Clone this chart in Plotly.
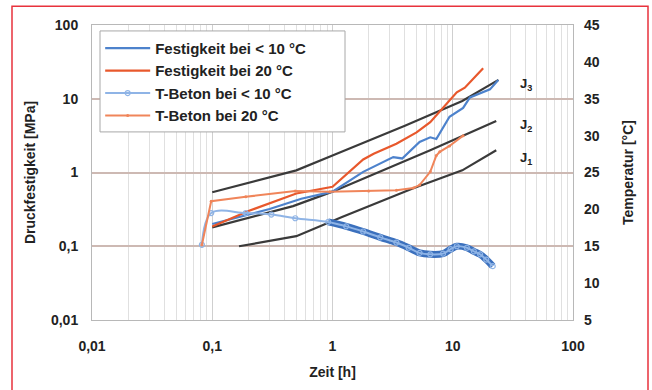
import plotly.graph_objects as go
import numpy as np

# ---- data ----
t_fest_cold = [0.1, 0.3, 0.55, 1.0, 1.8, 3.2, 3.8, 5.3, 6.5, 7.3, 9.4, 12.2, 13.9, 20.4, 23.9]
fest_cold = [0.2, 0.32, 0.44, 0.55, 1.02, 1.62, 1.55, 2.6, 3.0, 2.85, 5.7, 7.5, 10.4, 13.4, 18.0]

t_fest_20 = [0.1, 0.2, 0.5, 1.0, 1.8, 2.2, 3.4, 5.0, 6.5, 7.8, 10.8, 12.6, 17.9]
fest_20 = [0.185, 0.3, 0.52, 0.64, 1.5, 1.8, 2.45, 3.5, 4.8, 6.7, 12.2, 14.1, 26.0]

t_temp_cold = [0.082, 0.098, 0.19, 0.31, 0.49, 0.92, 1.3, 1.8, 2.5, 3.4, 4.3, 5.3, 6.5, 8.3, 9.6, 10.8, 13.1, 15.0, 16.9, 19.0, 21.5]
temp_cold = [15.2, 19.5, 19.5, 19.3, 18.8, 18.3, 17.7, 17.0, 16.2, 15.5, 14.8, 14.1, 13.9, 14.0, 14.6, 15.0, 14.8, 14.3, 13.9, 13.2, 12.3]

t_temp_20 = [0.082, 0.098, 0.19, 0.49, 0.95, 2.0, 3.4, 4.7, 5.3, 6.5, 7.3, 7.8, 9.4, 12.2]
temp_20 = [15.2, 21.1, 21.7, 22.5, 22.4, 22.5, 22.6, 22.9, 23.3, 25.1, 27.3, 27.8, 28.6, 30.0]

t_J1 = [0.167, 0.5, 1.2, 4.7, 12.0, 23.0]
J1 = [0.1, 0.137, 0.25, 0.61, 1.07, 2.0]
t_J2 = [0.1, 0.47, 1.0, 6.5, 23.0]
J2 = [0.18, 0.35, 0.55, 2.0, 5.0]
t_J3 = [0.1, 0.5, 1.0, 4.0, 12.0, 24.0]
J3 = [0.54, 1.07, 1.7, 4.3, 9.3, 18.0]

x_ticks = [0.01, 0.1, 1, 10, 100]
x_ticktext = ["0,01", "0,1", "1", "10", "100"]
y_ticks = [0.01, 0.1, 1, 10, 100]
y_ticktext = ["0,01", "0,1", "1", "10", "100"]
temp_ticks = [5, 10, 15, 20, 25, 30, 35, 40, 45]

series_names = ["Festigkeit bei < 10 °C", "Festigkeit bei 20 °C",
                "T-Beton bei < 10 °C", "T-Beton bei 20 °C"]

BLUE = "#4d82cc"
ORANGE = "#e8582c"
ORANGE_L = "#f0855a"
DARK = "#3a3a3a"
FONT = "Liberation Sans"

fig = go.Figure()

# reference lines J1..J3
for tx, ty in [(t_J1, J1), (t_J2, J2), (t_J3, J3)]:
    fig.add_trace(go.Scatter(x=tx, y=ty, mode="lines", showlegend=False,
                             line=dict(color=DARK, width=2.2), hoverinfo="skip"))

# temperature band underlay (dense logged markers look)
i0 = next(i for i, v in enumerate(t_temp_cold) if v >= 0.9)
fig.add_trace(go.Scatter(x=t_temp_cold[i0:], y=temp_cold[i0:], yaxis="y2", mode="lines",
                         showlegend=False, line=dict(color="#3b70bd", width=7, shape="spline"),
                         hoverinfo="skip"))

fig.add_trace(go.Scatter(x=t_fest_cold, y=fest_cold, mode="lines", name=series_names[0],
                         legendgroup="a", line=dict(color=BLUE, width=2.2)))
fig.add_trace(go.Scatter(x=t_fest_20, y=fest_20, mode="lines", name=series_names[1],
                         legendgroup="b", line=dict(color=ORANGE, width=2.2)))
fig.add_trace(go.Scatter(x=t_temp_cold, y=temp_cold, yaxis="y2", mode="lines+markers",
                         name=series_names[2], legendgroup="c",
                         line=dict(color="#8fb4e6", width=2, shape="spline"),
                         marker=dict(symbol="circle-open", size=5, color="#8fb4e6",
                                     line=dict(width=1.2))))
fig.add_trace(go.Scatter(x=t_temp_20, y=temp_20, yaxis="y2", mode="lines+markers",
                         name=series_names[3], legendgroup="d",
                         line=dict(color=ORANGE_L, width=2),
                         marker=dict(symbol="circle", size=3, color=ORANGE_L)))

# J labels
for lbl, yy in [("J<sub>3</sub>", 15.7), ("J<sub>2</sub>", 4.3), ("J<sub>1</sub>", 1.57)]:
    fig.add_annotation(x=np.log10(34.7), y=np.log10(yy), text="<b>" + lbl + "</b>",
                       showarrow=False, xanchor="left", yanchor="middle",
                       font=dict(family=FONT, size=13, color="#222"))

minor_x = [k * 10.0 ** e for e in range(-2, 2) for k in range(2, 10)]

fig.update_layout(
    width=652, height=390,
    margin=dict(l=92, r=79, t=25, b=67),
    paper_bgcolor="white", plot_bgcolor="white",
    font=dict(family=FONT, size=13, color="#222"),
    showlegend=True,
    legend=dict(x=0.017, y=0.977, xanchor="left", yanchor="top",
                bgcolor="rgba(0,0,0,0)", borderwidth=0,
                font=dict(family=FONT, size=15, color="#222", weight="bold"),
                itemwidth=45, tracegroupgap=0),
    xaxis=dict(type="log", range=[-2, 2], tickvals=x_ticks, ticktext=x_ticktext,
               showgrid=True, gridcolor="#cfcfcf", gridwidth=1,
               minor=dict(tickvals=minor_x, showgrid=True, gridcolor="#e0e0e0", gridwidth=1),
               showline=True, linecolor="#b8b8b8", linewidth=1, mirror=True,
               ticks="", ticklabelstandoff=13,
               tickfont=dict(family=FONT, size=14, weight="bold"),
               title=dict(text="<b>Zeit [h]</b>", standoff=14,
                          font=dict(family=FONT, size=14)),
               zeroline=False),
    yaxis=dict(type="log", range=[-2, 2], tickvals=y_ticks, ticktext=y_ticktext,
               showgrid=True, gridcolor="#cdb9b3", gridwidth=1.6,
               showline=True, linecolor="#b8b8b8", linewidth=1, mirror=True,
               ticks="", ticklabelstandoff=10,
               tickfont=dict(family=FONT, size=14, weight="bold"),
               title=dict(text="<b>Druckfestigkeit [MPa]</b>", standoff=12,
                          font=dict(family=FONT, size=14)),
               zeroline=False),
    yaxis2=dict(overlaying="y", side="right", range=[5, 45], tickvals=temp_ticks,
                showgrid=False, zeroline=False, ticks="", ticklabelstandoff=10,
                tickfont=dict(family=FONT, size=14, weight="bold"),
                title=dict(text="<b>Temperatur [°C]</b>", standoff=24,
                           font=dict(family=FONT, size=14))),
)

# legend frame (white box behind the legend)
fig.add_shape(type="rect", xref="paper", yref="paper",
              x0=(100 - 92) / 481, x1=(345 - 92) / 481,
              y0=(323 - 133) / 298, y1=(323 - 31) / 298,
              line=dict(color="#a8a8a8", width=1), fillcolor="white", layer="above")

# red outer frame
fig.add_shape(type="rect", xref="paper", yref="paper",
              x0=(12 - 92) / 481, x1=(648 - 92) / 481,
              y0=(323 - 395) / 298, y1=(323 - 6) / 298,
              line=dict(color="#e8323c", width=1.5), fillcolor="rgba(0,0,0,0)", layer="above")

fig.write_html("out.html")
